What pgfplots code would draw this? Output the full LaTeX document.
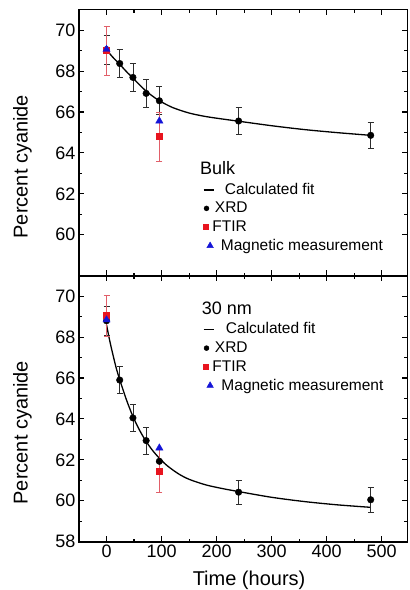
\documentclass[border=0pt]{standalone}
\usepackage{pgfplots}
\pgfplotsset{compat=1.18}
\usepackage{fontspec}
\setmainfont{Liberation Sans}

\definecolor{myred}{RGB}{232,20,30}
\definecolor{myblue}{RGB}{20,20,215}
\definecolor{errred}{RGB}{225,95,105}
\definecolor{errblk}{RGB}{45,45,45}

\pgfplotsset{
  panel/.style={
    width=328.3pt, height=266pt, scale only axis,
    xmin=-50, xmax=546.5, ymin=58, ymax=71,
    xtick={0,100,...,500}, minor x tick num=1, minor y tick num=1,
    axis line style={line width=1.6pt},
    major tick length=5.5pt, minor tick length=3pt,
    every tick/.style={black, line width=1.1pt},
    tick label style={font=\fontsize{18}{21}\selectfont},
    /pgf/number format/assume math mode=true,
    every axis y label/.style={at={(axis description cs:-0.143,0.41)}, rotate=90, anchor=south, inner sep=0pt, font=\fontsize{20}{24}\selectfont},
    every axis x label/.style={at={(axis description cs:0.518,-0.108)}, anchor=north, inner sep=0pt, font=\fontsize{20}{24}\selectfont},
    legend cell align=left,
  },
  fitline/.style={black, line width=1.3pt, smooth, no marks, forget plot},
  xrd/.style={only marks, mark=*, mark size=3.3pt, black, forget plot,
    error bars/.cd, y dir=both, y explicit,
    error bar style={errblk, line width=0.8pt},
    error mark options={rotate=90, errblk, mark size=3pt, line width=0.8pt}},
  ftir/.style={only marks, mark=square*, mark size=3pt, myred, forget plot,
    error bars/.cd, y dir=both, y explicit,
    error bar style={errred, line width=0.8pt},
    error mark options={rotate=90, errred, mark size=3pt, line width=0.8pt}},
  magn/.style={only marks, mark=triangle*, mark size=4.2pt, myblue, forget plot},
  mylegend/.style={legend style={at={#1}, anchor=north west, draw=none, fill=none,
    inner sep=0pt, outer sep=0pt, row sep=3.7pt, column sep=0pt,
    font=\fontsize{15.5}{18}\selectfont,
    nodes={inner sep=0pt, text height=12pt, text depth=3pt}}},
  legline/.style={legend image code/.code={\draw[##1, line width=1.7pt] (0pt,0pt) -- (10.6pt,0pt);}},
  legcirc/.style={legend image code/.code={\draw[##1] plot[only marks] coordinates {(3pt,0pt)};}},
  legsq/.style={legend image code/.code={\draw[##1] plot[only marks] coordinates {(2pt,0pt)};}},
  legtri/.style={legend image code/.code={\draw[##1] plot[only marks] coordinates {(6.6pt,0pt)};}},
}

\begin{document}
\begin{tikzpicture}
\path[use as bounding box] (-79pt,-48.3pt) rectangle (331pt,541.7pt);

% ---------------- bottom panel: 30 nm ----------------
\begin{axis}[panel, at={(0pt,0pt)}, anchor=south west,
  ytick={58,60,...,70},
  xlabel={Time (hours)}, ylabel={Percent cyanide},
  mylegend={(axis cs:174.7,68.74)}]
\addplot[fitline] coordinates {
 (0,68.6) (6,67.8) (12,67.1) (18,66.45) (24,65.92) (36,64.95) (48,64.12)
 (60,63.45) (72,62.9) (84,62.45) (96,62.08) (110,61.72) (130,61.33)
 (150,61.05) (180,60.78) (210,60.6) (240,60.45) (300,60.17) (360,59.96)
 (420,59.8) (480,59.68)};
\addplot[xrd] table[x=t, y=v, y error=e] {
t v e
0 68.8 0.7
24 65.9 0.65
48 64.05 0.65
72 62.94 0.65
96 61.93 0.6
240 60.42 0.6
480 60.05 0.6
};
\addplot[ftir] table[x=t, y=v, y error=e] {
t v e
0 69.05 1.0
96 61.44 1.05
};
\addplot[magn] table[x=t, y=v] {
t v
0 68.84
96 62.58
};
\addlegendimage{black, legline, legend image post style={line width=1.7pt}}
\addlegendentry{\hspace*{11pt}Calculated fit}
\addlegendimage{black, mark=*, mark size=2.5pt, legcirc}
\addlegendentry{XRD}
\addlegendimage{myred, mark=square*, mark size=2.6pt, legsq}
\addlegendentry{\hspace*{-2.6pt}FTIR}
\addlegendimage{myblue, mark=triangle*, mark size=3.8pt, legtri}
\addlegendentry{\hspace*{6.5pt}Magnetic measurement}
\node[anchor=base west, inner sep=0pt, font=\fontsize{18}{21}\selectfont] at (axis cs:172.9,69.08) {30 nm};
\end{axis}

% ---------------- top panel: Bulk ----------------
\begin{axis}[panel, at={(0pt,266pt)}, anchor=south west,
  ytick={60,62,...,70}, xticklabel=\empty,
  ylabel={Percent cyanide},
  mylegend={(axis cs:174.7,62.57)}]
\addplot[fitline] coordinates {
 (0,69.05) (10,68.72) (24,68.33) (36,67.98) (48,67.66) (60,67.33) (72,67.02)
 (84,66.77) (96,66.55) (120,66.22) (150,65.95) (180,65.78) (210,65.66)
 (240,65.55) (300,65.33) (360,65.14) (420,64.99) (480,64.86)};
\addplot[xrd] table[x=t, y=v, y error=e] {
t v e
0 69.05 0.7
24 68.37 0.7
48 67.69 0.7
72 66.91 0.68
96 66.55 0.68
240 65.56 0.65
480 64.86 0.65
};
\addplot[ftir] table[x=t, y=v, y error=e] {
t v e
0 69.0 1.2
96 64.8 1.2
};
\addplot[magn] table[x=t, y=v] {
t v
0 69.06
96 65.56
};
\addlegendimage{black, legline, legend image post style={line width=1.7pt}}
\addlegendentry{\hspace*{10pt}Calculated fit}
\addlegendimage{black, mark=*, mark size=2.5pt, legcirc}
\addlegendentry{XRD}
\addlegendimage{myred, mark=square*, mark size=2.6pt, legsq}
\addlegendentry{\hspace*{-2.6pt}FTIR}
\addlegendimage{myblue, mark=triangle*, mark size=3.8pt, legtri}
\addlegendentry{\hspace*{6pt}Magnetic measurement}
\node[anchor=base west, inner sep=0pt, font=\fontsize{18}{21}\selectfont] at (axis cs:169.8,62.95) {Bulk};
\end{axis}
\end{tikzpicture}
\end{document}
